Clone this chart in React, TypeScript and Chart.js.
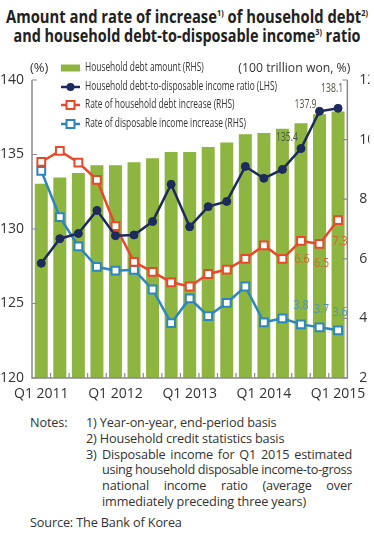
import React, { useEffect, useRef } from "react";
import { Chart, registerables } from "chart.js";

Chart.register(...registerables);

// ---------- data ----------
const categories = [
  "Q1 2011", "Q2 2011", "Q3 2011", "Q4 2011",
  "Q1 2012", "Q2 2012", "Q3 2012", "Q4 2012",
  "Q1 2013", "Q2 2013", "Q3 2013", "Q4 2013",
  "Q1 2014", "Q2 2014", "Q3 2014", "Q4 2014",
  "Q1 2015",
];
// Household debt amount (RHS, 100 trillion won)
const debtAmount = [8.52, 8.73, 8.88, 9.14, 9.14, 9.24, 9.37, 9.58, 9.58, 9.75, 9.9, 10.18, 10.22, 10.36, 10.55, 10.85, 10.94];
// Household debt-to-disposable income ratio (LHS, %)
const debtToIncomeRatio = [127.7, 129.35, 129.7, 131.25, 129.55, 129.6, 130.5, 133.0, 130.15, 131.5, 131.85, 134.2, 133.4, 134.0, 135.4, 137.9, 138.1];
// Rate of household debt increase (RHS, %)
const debtIncreaseRate = [9.25, 9.62, 9.23, 8.65, 7.1, 5.9, 5.56, 5.21, 5.07, 5.49, 5.64, 6.0, 6.45, 6.0, 6.6, 6.5, 7.3];
// Rate of disposable income increase (RHS, %)
const incomeIncreaseRate = [8.95, 7.4, 6.42, 5.73, 5.6, 5.63, 4.97, 3.84, 4.67, 4.08, 4.52, 5.07, 3.87, 4.0, 3.8, 3.7, 3.6];

const leftAxisTicks = [120, 125, 130, 135, 140];
const rightAxisTicks = [2, 4, 6, 8, 10, 12];
const shownXLabels = ["Q1 2011", "Q1 2012", "Q1 2013", "Q1 2014", "Q1 2015"];

const ratioLabelIdx = [14, 15, 16];
const debtRateLabelIdx = [14, 15, 16];
const incomeRateLabelIdx = [14, 15, 16];

const legendLabels = [
  "Household debt amount (RHS)",
  "Household debt-to-disposable income ratio (LHS)",
  "Rate of household debt increase (RHS)",
  "Rate of disposable income increase (RHS)",
];

const titleLine1 = ["Amount and rate of increase", "1)", " of household debt", "2)"];
const titleLine2 = ["and household debt-to-disposable income", "3)", " ratio"];

const note3Lines = [
  "Disposable income for Q1 2015 estimated",
  "using household disposable income-to-gross",
  "national income ratio (average over",
];
const note3Last = "immediately preceding three years)";

// ---------- styles ----------
const GREEN = "#8db53f";
const NAVY = "#1d2a5c";
const RED = "#e8492b";
const BLUE = "#2e86bf";
const AXIS = "#8a8a8a";
const TEXT = "#333333";
const FONT = "'Open Sans', sans-serif";
const NOTE_SIZE = 12.7;
const NOTE_LS = -0.15;

// label placement relative to point (dx, dy, align)
const ratioLabelPos: [number, number, CanvasTextAlign][] = [[-3, -11, "right"], [-3, -7, "right"], [-6, -20, "center"]];
const debtRateLabelPos: [number, number, CanvasTextAlign][] = [[1, 18, "center"], [2, 19, "center"], [2, 21, "center"]];
const incomeRateLabelPos: [number, number, CanvasTextAlign][] = [[0, -19, "center"], [2, -18, "center"], [2, -18, "center"]];

let measureCtx: CanvasRenderingContext2D | null = null;
function measure(text: string, font: string) {
  if (!measureCtx) measureCtx = document.createElement("canvas").getContext("2d");
  if (!measureCtx) return text.length * 8;
  measureCtx.font = font;
  return measureCtx.measureText(text).width;
}

function drawText(ctx: CanvasRenderingContext2D, text: string, x: number, y: number, size: number, color: string, align: CanvasTextAlign, sx: number) {
  ctx.save();
  ctx.font = `${size}px ${FONT}`;
  ctx.fillStyle = color;
  ctx.textAlign = align;
  ctx.textBaseline = "middle";
  ctx.translate(x, y);
  ctx.scale(sx, 1);
  ctx.fillText(text, 0, 0);
  ctx.restore();
}

function fitScale(ctx: CanvasRenderingContext2D, text: string, size: number, target: number) {
  ctx.save();
  ctx.font = `${size}px ${FONT}`;
  const w = ctx.measureText(text).width;
  ctx.restore();
  return w > 0 ? target / w : 1;
}

function drawMarker(ctx: CanvasRenderingContext2D, kind: string, x: number, y: number, color: string) {
  ctx.save();
  if (kind === "circle") {
    ctx.fillStyle = color;
    ctx.beginPath();
    ctx.arc(x, y, 4, 0, Math.PI * 2);
    ctx.fill();
  } else {
    ctx.fillStyle = "#fff";
    ctx.strokeStyle = color;
    ctx.lineWidth = 2;
    ctx.beginPath();
    ctx.rect(x - 4, y - 4, 8, 8);
    ctx.fill();
    ctx.stroke();
  }
  ctx.restore();
}

const decorPlugin = {
  id: "decor",
  afterDatasetsDraw(chart: any) {
    const { ctx, chartArea: a, scales } = chart;
    ctx.save();
    ctx.strokeStyle = AXIS;
    ctx.lineWidth = 1.5;
    ctx.beginPath();
    ctx.moveTo(a.left, a.top);
    ctx.lineTo(a.left, a.bottom);
    ctx.lineTo(a.right, a.bottom);
    ctx.lineTo(a.right, a.top);
    ctx.stroke();
    ctx.lineWidth = 1.2;
    ctx.beginPath();
    scales.y.ticks.forEach((t: any) => {
      const py = scales.y.getPixelForValue(t.value);
      ctx.moveTo(a.left, py);
      ctx.lineTo(a.left + 5, py);
    });
    scales.y1.ticks.forEach((t: any) => {
      const py = scales.y1.getPixelForValue(t.value);
      ctx.moveTo(a.right, py);
      ctx.lineTo(a.right - 5, py);
    });
    for (let i = 1; i < categories.length; i++) {
      const px = (scales.x.getPixelForValue(i - 1) + scales.x.getPixelForValue(i)) / 2;
      ctx.moveTo(px, a.bottom);
      ctx.lineTo(px, a.bottom - 5);
    }
    ctx.stroke();
    ctx.restore();

    // unit labels
    drawText(ctx, "(%)", a.left - 2, a.top - 12, 13, TEXT, "left", 1);
    const unitText = "(100 trillion won, %)";
    drawText(ctx, unitText, a.right + 3, a.top - 12, 13, TEXT, "right", fitScale(ctx, unitText, 13, 112));

    // legend
    const lsx = fitScale(ctx, legendLabels[1], 12, 192);
    const rows = [a.top - 12, a.top + 7, a.top + 25, a.top + 44];
    const mx0 = a.left + 29, mx1 = a.left + 48, mxc = (mx0 + mx1) / 2;
    ctx.save();
    ctx.fillStyle = GREEN;
    ctx.fillRect(mx0, rows[0] - 3.5, mx1 - mx0, 7);
    const lineCols = [NAVY, RED, BLUE];
    for (let k = 0; k < 3; k++) {
      ctx.strokeStyle = lineCols[k];
      ctx.lineWidth = 2.5;
      ctx.beginPath();
      ctx.moveTo(mx0, rows[k + 1]);
      ctx.lineTo(mx1, rows[k + 1]);
      ctx.stroke();
      drawMarker(ctx, k === 0 ? "circle" : "rect", mxc, rows[k + 1], lineCols[k]);
    }
    ctx.restore();
    legendLabels.forEach((lab, k) => drawText(ctx, lab, mx1 + 5, rows[k], 12, TEXT, "left", lsx));

    // data labels
    const bigSx = fitScale(ctx, "135.4", 13, 22);
    const smallSx = fitScale(ctx, "6.6", 13.5, 15);
    const metaRatio = chart.getDatasetMeta(1).data;
    const metaDebt = chart.getDatasetMeta(2).data;
    const metaInc = chart.getDatasetMeta(3).data;
    ratioLabelIdx.forEach((idx, k) => {
      const p = metaRatio[idx];
      const [dx, dy, al] = ratioLabelPos[k];
      drawText(ctx, debtToIncomeRatio[idx].toFixed(1), p.x + dx, p.y + dy, 13, "#4d5544", al, bigSx);
    });
    debtRateLabelIdx.forEach((idx, k) => {
      const p = metaDebt[idx];
      const [dx, dy, al] = debtRateLabelPos[k];
      drawText(ctx, debtIncreaseRate[idx].toFixed(1), p.x + dx, p.y + dy, 13.5, "#d9602e", al, smallSx);
    });
    incomeRateLabelIdx.forEach((idx, k) => {
      const p = metaInc[idx];
      const [dx, dy, al] = incomeRateLabelPos[k];
      drawText(ctx, incomeIncreaseRate[idx].toFixed(1), p.x + dx, p.y + dy, 13.5, "#4f93b5", al, smallSx);
    });
  },
};

function TitleLine({ parts, target, top }: { parts: string[]; target: number; top: number }) {
  const size = 17;
  let w = 0;
  parts.forEach((p, i) => {
    const isSup = i % 2 === 1;
    w += measure(p, `700 ${isSup ? size * 0.5 : size}px ${FONT}`);
  });
  const s = w > 0 ? target / w : 1;
  return (
    <div
      style={{
        position: "absolute",
        left: "50%",
        top,
        whiteSpace: "nowrap",
        transform: `translateX(-50%) scaleX(${s})`,
        transformOrigin: "center",
        fontWeight: 700,
        fontSize: size,
        lineHeight: "19px",
        color: "#222",
      }}
    >
      {parts.map((p, i) =>
        i % 2 === 1 ? (
          <span key={i} style={{ fontSize: size * 0.5, verticalAlign: "super", lineHeight: 0 }}>{p}</span>
        ) : (
          <span key={i}>{p}</span>
        )
      )}
    </div>
  );
}

function JustLine({ text, width, top }: { text: string; width: number; top: number }) {
  const natural = measure(text, `${NOTE_SIZE}px ${FONT}`) + text.length * NOTE_LS;
  const gaps = (text.match(/ /g) || []).length;
  let ws = 0;
  let ls = NOTE_LS;
  if (natural <= width) {
    ws = gaps > 0 ? (width - natural) / gaps : 0;
  } else {
    ls = NOTE_LS + (width - natural) / text.length;
  }
  return (
    <div style={{ position: "absolute", left: 0, top, whiteSpace: "pre", wordSpacing: `${ws}px`, letterSpacing: `${ls}px` }}>{text}</div>
  );
}

export default function App() {
  const ref = useRef<HTMLCanvasElement>(null);

  useEffect(() => {
    document.body.style.margin = "0";
    const canvas = ref.current;
    if (!canvas) return;
    const tickFont = { family: FONT, size: 14 };
    const chart = new Chart(canvas, {
      type: "bar",
      data: {
        labels: categories,
        datasets: [
          {
            type: "bar",
            label: legendLabels[0],
            data: debtAmount,
            yAxisID: "y1",
            backgroundColor: GREEN,
            barPercentage: 0.7,
            categoryPercentage: 1,
            order: 4,
          },
          {
            type: "line",
            label: legendLabels[1],
            data: debtToIncomeRatio,
            yAxisID: "y",
            borderColor: NAVY,
            borderWidth: 2.5,
            pointStyle: "circle",
            pointRadius: 4,
            pointBackgroundColor: NAVY,
            pointBorderColor: NAVY,
            pointBorderWidth: 1,
            tension: 0,
            order: 1,
          },
          {
            type: "line",
            label: legendLabels[2],
            data: debtIncreaseRate,
            yAxisID: "y1",
            borderColor: RED,
            borderWidth: 2.5,
            pointStyle: "rect",
            pointRadius: 5.5,
            pointBackgroundColor: "#ffffff",
            pointBorderColor: RED,
            pointBorderWidth: 2,
            tension: 0,
            order: 2,
          },
          {
            type: "line",
            label: legendLabels[3],
            data: incomeIncreaseRate,
            yAxisID: "y1",
            borderColor: BLUE,
            borderWidth: 2.5,
            pointStyle: "rect",
            pointRadius: 5.5,
            pointBackgroundColor: "#ffffff",
            pointBorderColor: BLUE,
            pointBorderWidth: 2,
            tension: 0,
            order: 3,
          },
        ],
      },
      options: {
        responsive: false,
        animation: false,
        layout: { padding: { top: 25, left: 0, right: 0, bottom: 0 } },
        plugins: { legend: { display: false }, tooltip: { enabled: false } },
        scales: {
          x: {
            offset: true,
            grid: { display: false, drawTicks: false },
            border: { display: false },
            ticks: {
              autoSkip: false,
              maxRotation: 0,
              minRotation: 0,
              padding: 8,
              color: TEXT,
              font: tickFont,
              callback: (_v: any, i: number) => (shownXLabels.includes(categories[i]) ? categories[i] : ""),
            },
            afterFit: (s: any) => { s.height = 32; },
          },
          y: {
            position: "left",
            min: leftAxisTicks[0],
            max: leftAxisTicks[leftAxisTicks.length - 1],
            grid: { display: false, drawTicks: false },
            border: { display: false },
            afterBuildTicks: (s: any) => { s.ticks = leftAxisTicks.map((v) => ({ value: v })); },
            ticks: { padding: 8, color: TEXT, font: tickFont },
            afterFit: (s: any) => { s.width = 32; },
          },
          y1: {
            position: "right",
            min: rightAxisTicks[0],
            max: rightAxisTicks[rightAxisTicks.length - 1],
            grid: { display: false, drawTicks: false },
            border: { display: false },
            afterBuildTicks: (s: any) => { s.ticks = rightAxisTicks.map((v) => ({ value: v })); },
            ticks: { padding: 12, color: TEXT, font: tickFont },
            afterFit: (s: any) => { s.width = 22; },
          },
        },
      },
      plugins: [decorPlugin],
    } as any);
    return () => chart.destroy();
  }, []);

  const LH = 15.8;
  const noteLine: React.CSSProperties = { position: "absolute", whiteSpace: "pre" };

  return (
    <div style={{ position: "relative", width: 374, height: 539, overflow: "hidden", background: "#fff", fontFamily: FONT, color: TEXT }}>
      <TitleLine parts={titleLine1} target={362} top={6.5} />
      <TitleLine parts={titleLine2} target={347} top={25.5} />
      <canvas ref={ref} width={374} height={355} style={{ position: "absolute", top: 55, left: 0, width: 374, height: 355 }} />
      <div style={{ position: "absolute", top: 415, left: 0, width: 374, height: 124, fontSize: NOTE_SIZE, lineHeight: `${LH}px`, letterSpacing: `${NOTE_LS}px` }}>
        <div style={{ ...noteLine, left: 30, top: 0 }}>Notes:</div>
        <div style={{ ...noteLine, left: 86, top: 0 }}>1) Year-on-year, end-period basis</div>
        <div style={{ ...noteLine, left: 86, top: LH }}>2) Household credit statistics basis</div>
        <div style={{ ...noteLine, left: 86, top: LH * 2 }}>3)</div>
        <div style={{ position: "absolute", left: 102, top: LH * 2, width: 250, height: LH * 4 }}>
          {note3Lines.map((t, i) => (
            <JustLine key={i} text={t} width={250} top={LH * i} />
          ))}
          <div style={{ ...noteLine, left: 0, top: LH * 3 }}>{note3Last}</div>
        </div>
        <div style={{ ...noteLine, left: 30, top: 100 }}>Source: The Bank of Korea</div>
      </div>
    </div>
  );
}
